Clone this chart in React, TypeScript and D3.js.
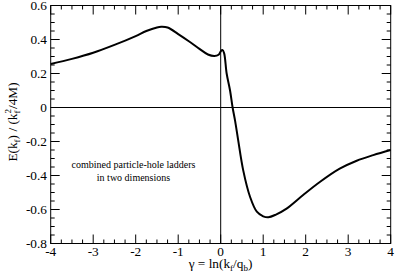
import React from "react";
import * as d3 from "d3";

const xs = [-4.0, -3.5, -3.0, -2.5, -2.0, -1.75, -1.5, -1.4, -1.25, -1.0, -0.75, -0.5, -0.3, -0.15, -0.05, 0.0, 0.04, 0.08, 0.14, 0.22, 0.28, 0.34, 0.41, 0.53, 0.69, 0.85, 1.0, 1.12, 1.3, 1.55, 1.94, 2.34, 2.8, 3.2, 3.59, 4.0];
const ys = [0.256, 0.286, 0.322, 0.368, 0.42, 0.45, 0.471, 0.475, 0.471, 0.432, 0.39, 0.345, 0.312, 0.303, 0.31, 0.33, 0.338, 0.32, 0.2, 0.1, 0.0, -0.08, -0.19, -0.37, -0.525, -0.613, -0.64, -0.646, -0.63, -0.595, -0.515, -0.437, -0.36, -0.313, -0.28, -0.25];
const xTicks = [-4, -3, -2, -1, 0, 1, 2, 3, 4];
const yTicks = [0.6, 0.4, 0.2, 0, -0.2, -0.4, -0.6, -0.8];
const noteLines = ["combined particle-hole ladders", "in two dimensions"];

const W = 395, H = 276;
const L = 50.7, R = 390.7, T = 5.5, B = 243.5;
const FONT = "Liberation Serif, Times New Roman, Times, serif";

export default function App() {
  const x = d3.scaleLinear().domain([-4, 4]).range([L, R]);
  const y = d3.scaleLinear().domain([-0.8, 0.6]).range([B, T]);
  const pts: [number, number][] = xs.map((v, i) => [v, ys[i]]);
  const line = d3.line<[number, number]>().x(d => x(d[0])).y(d => y(d[1])).curve(d3.curveCatmullRom.alpha(0.5));

  const xMinor = d3.range(-4, 4.001, 0.25).filter(v => Math.abs(v - Math.round(v)) > 1e-6);
  const yMinor = d3.range(-0.8, 0.6001, 0.05).filter(v => Math.abs(v * 5 - Math.round(v * 5)) > 1e-6);
  const fmt = (v: number) => (Math.abs(v) < 1e-9 ? "0" : String(+v.toFixed(1)));

  const ticks: any[] = [];
  xTicks.forEach((v, i) => {
    ticks.push(<line key={"xb" + i} x1={x(v)} x2={x(v)} y1={B} y2={B - 9} stroke="#000" />);
    ticks.push(<line key={"xt" + i} x1={x(v)} x2={x(v)} y1={T} y2={T + 9} stroke="#000" />);
  });
  xMinor.forEach((v, i) => {
    ticks.push(<line key={"xmb" + i} x1={x(v)} x2={x(v)} y1={B} y2={B - 4} stroke="#000" />);
    ticks.push(<line key={"xmt" + i} x1={x(v)} x2={x(v)} y1={T} y2={T + 4} stroke="#000" />);
  });
  yTicks.forEach((v, i) => {
    ticks.push(<line key={"yl" + i} x1={L} x2={L + 9} y1={y(v)} y2={y(v)} stroke="#000" />);
    ticks.push(<line key={"yr" + i} x1={R} x2={R - 9} y1={y(v)} y2={y(v)} stroke="#000" />);
  });
  yMinor.forEach((v, i) => {
    ticks.push(<line key={"yml" + i} x1={L} x2={L + 4} y1={y(v)} y2={y(v)} stroke="#000" />);
    ticks.push(<line key={"ymr" + i} x1={R} x2={R - 4} y1={y(v)} y2={y(v)} stroke="#000" />);
  });

  const ts = { fontFamily: FONT } as React.CSSProperties;

  return (
    <svg width={W} height={H} style={{ position: "absolute", left: 0, top: 0, background: "#fff", fontFamily: FONT }}>
      <rect x={0} y={0} width={W} height={H} fill="#fff" />
      <line x1={L} x2={R} y1={y(0)} y2={y(0)} stroke="#000" strokeWidth={1} />
      <line x1={x(0)} x2={x(0)} y1={T} y2={B} stroke="#000" strokeWidth={1} />
      {ticks}
      <rect x={L} y={T} width={R - L} height={B - T} fill="none" stroke="#000" strokeWidth={1} />
      <path d={line(pts) || ""} fill="none" stroke="#000" strokeWidth={2} />
      {yTicks.map((v, i) => (
        <text key={"yt" + i} style={ts} x={47} y={y(v) + 4.6} textAnchor="end" fontSize={13.3}>{fmt(v)}</text>
      ))}
      {xTicks.map((v, i) => (
        <text key={"xtl" + i} style={ts} x={x(v)} y={256} textAnchor="middle" fontSize={13.3}>{fmt(v)}</text>
      ))}
      <text style={ts} x={220.5} y={268} textAnchor="middle" fontSize={13.3}>
        γ = ln(k<tspan fontSize={9} dy={3}>f</tspan><tspan dy={-3}>/q</tspan><tspan fontSize={9} dy={3}>b</tspan><tspan dy={-3}>)</tspan>
      </text>
      <text style={ts} transform="translate(17,122) rotate(-90)" textAnchor="middle" fontSize={13.3}>
        E(k<tspan fontSize={9} dy={3}>f</tspan><tspan dy={-3}>) / (k</tspan><tspan fontSize={9} dy={3}>f</tspan><tspan fontSize={9} dx={-3} dy={-9}>2</tspan><tspan dy={6}>/4M)</tspan>
      </text>
      {noteLines.map((s, i) => (
        <text key={"n" + i} style={ts} x={133.5} y={168 + i * 12.5} textAnchor="middle" fontSize={10}>{s}</text>
      ))}
    </svg>
  );
}
